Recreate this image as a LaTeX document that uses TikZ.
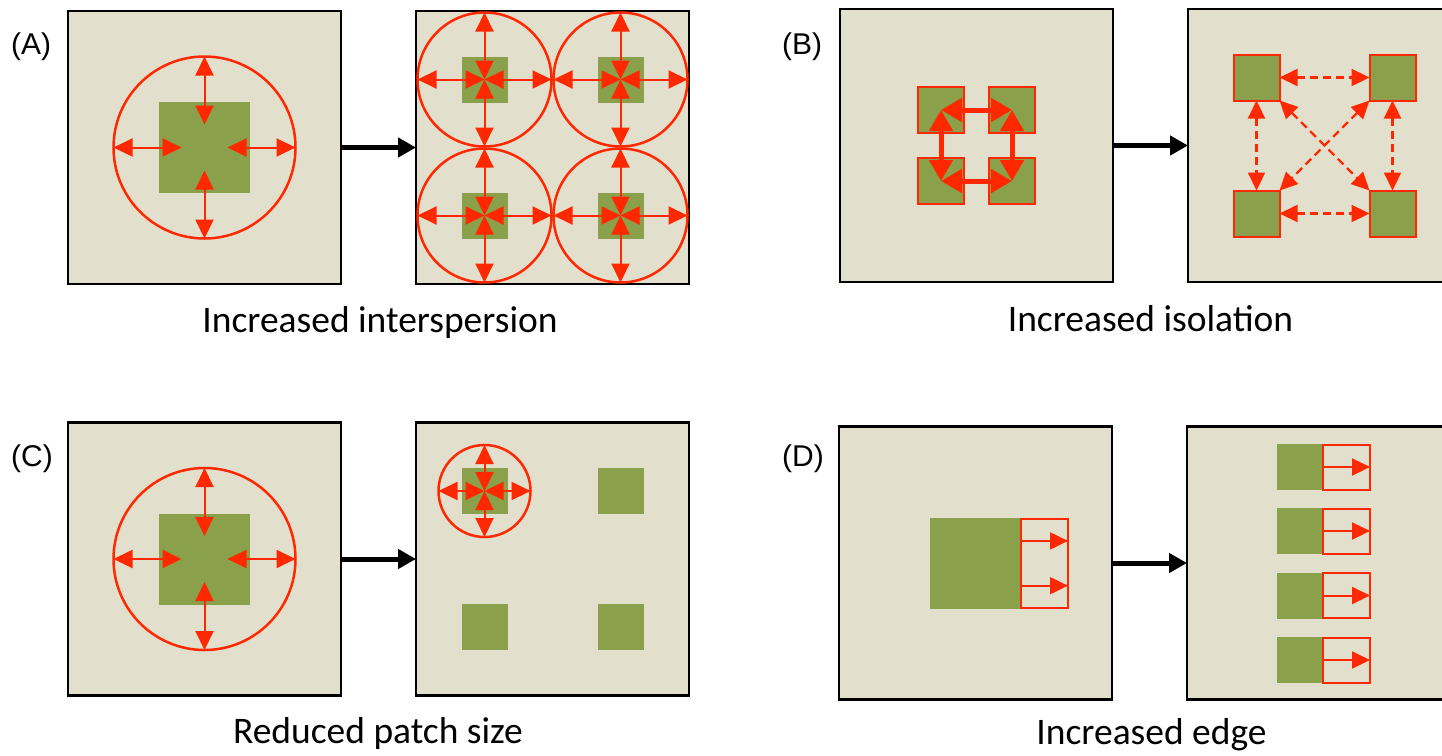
\documentclass[tikz,border=0pt]{standalone}
\usepackage{fontspec}
\setmainfont{Carlito}
\newfontfamily\labfont{Liberation Sans}
\usetikzlibrary{arrows.meta,calc}
\definecolor{bgc}{RGB}{226,223,205}
\definecolor{patchc}{RGB}{138,160,75}
\definecolor{redc}{RGB}{255,40,0}
\newcommand\starfrom[2]{%
  \draw[redarr] (#1.north) -- ($(#1.center)+(0,-#2)$);
  \draw[redarr] (#1.south) -- ($(#1.center)+(0,#2)$);
  \draw[redarr] (#1.east) -- ($(#1.center)+(#2,0)$);
  \draw[redarr] (#1.west) -- ($(#1.center)+(-#2,0)$);}
\begin{document}
\begin{tikzpicture}[x=1pt,y=-1pt,
  panel/.style={draw=black,line width=2.5pt,fill=bgc,minimum size=273pt,inner sep=0pt,outer sep=0pt},
  patchg/.style={fill=patchc,inner sep=0pt,outer sep=0pt,minimum size=#1},
  patchr/.style={fill=patchc,draw=redc,line width=2pt,inner sep=0pt,outer sep=0pt,minimum size=46pt},
  edgebox/.style={draw=redc,line width=2pt,inner sep=0pt,outer sep=0pt},
  circ/.style={circle,draw=redc,line width=2.5pt,minimum size=#1,inner sep=0pt,outer sep=0pt},
  redarr/.style={{Triangle[length=19pt,width=18pt]}-{Triangle[length=19pt,width=18pt]},line width=2pt,draw=redc,fill=redc},
  thickarr/.style={{Triangle[length=21pt,width=23pt]}-{Triangle[length=21pt,width=23pt]},line width=5pt,draw=redc,fill=redc},
  dasharr/.style={{Triangle[length=18pt,width=17pt]}-{Triangle[length=18pt,width=17pt]},line width=2.2pt,draw=redc,dash pattern=on 8pt off 5pt},
  edgearr/.style={-{Triangle[length=18pt,width=17pt]},line width=2pt,draw=redc},
  bigarr/.style={-{Triangle[length=18pt,width=19pt]},line width=5pt,draw=black},
  labtxt/.style={font=\labfont\fontsize{30}{33}\selectfont,inner sep=0pt,anchor=base west},
  captxt/.style={font=\fontsize{37.5}{40}\selectfont,inner sep=0pt,anchor=base}]
\useasboundingbox (0,0) rectangle (1442,755);

% ---------- labels ----------
\node[labtxt] (lA) at (11,54) {(A)};
\node[labtxt] (lB) at (782,54) {(B)};
\node[labtxt] (lC) at (11,466) {(C)};
\node[labtxt] (lD) at (782,466.5) {(D)};

% ---------- captions ----------
\node[captxt] (capA) at (380,332.7) {Increased interspersion};
\node[captxt] (capB) at (1150.5,331) {Increased isolation};
\node[captxt] (capC) at (378,743.3) {Reduced patch size};
\node[captxt] (capD) at (1151.5,744.3) {Increased edge};

% ---------- panels ----------
\node[panel] (A1) at (204.5,147.5) {};
\node[panel] (A2) at (552.5,147.5) {};
\node[panel] (B1) at (976.5,145.5) {};
\node[panel] (B2) at (1324.5,145.5) {};
\node[panel] (C1) at (204.5,559) {};
\node[panel] (C2) at (552.5,559) {};
\node[panel] (D1) at (975.5,563) {};
\node[panel] (D2) at (1323.5,563) {};

\draw[bigarr] (A1.east) -- (A2.west);
\draw[bigarr] (B1.east) -- (B2.west);
\draw[bigarr] (C1.east) -- (C2.west);
\draw[bigarr] (D1.east) -- (D2.west);

% ---------- (A) ----------
\node[patchg=91pt] (pA) at (A1.center) {};
\node[circ=182pt] (cA) at (A1.center) {};
\starfrom{cA}{23}
\foreach \n/\dx/\dy in {1/-68/-68,2/68/-68,3/-68/68,4/68/68}{
  \node[patchg=46pt] (pA\n) at ($(A2.center)+(\dx,\dy)$) {};
  \node[circ=134pt] (cA\n) at (pA\n.center) {};
}
\starfrom{cA1}{0}
\starfrom{cA2}{0}
\starfrom{cA3}{0}
\starfrom{cA4}{0}

% ---------- (C) ----------
\node[patchg=91pt] (pC) at (C1.center) {};
\node[circ=182pt] (cC) at (C1.center) {};
\starfrom{cC}{23}
\foreach \n/\dx/\dy in {1/-68/-68,2/68/-68,3/-68/68,4/68/68}{
  \node[patchg=46pt] (pC\n) at ($(C2.center)+(\dx,\dy)$) {};
}
\node[circ=92pt] (cC1) at (pC1.center) {};
\starfrom{cC1}{0}

% ---------- (B) ----------
\node[patchr] (b1) at ($(B1.center)+(-35.5,-35.5)$) {};
\node[patchr] (b2) at ($(B1.center)+(35.5,-35.5)$) {};
\node[patchr] (b3) at ($(B1.center)+(-35.5,35.5)$) {};
\node[patchr] (b4) at ($(B1.center)+(35.5,35.5)$) {};
\draw[thickarr] (b1.center) -- (b2.center);
\draw[thickarr] (b3.center) -- (b4.center);
\draw[thickarr] (b1.center) -- (b3.center);
\draw[thickarr] (b2.center) -- (b4.center);

\node[patchr] (bb1) at ($(B2.center)+(-68,-68)$) {};
\node[patchr] (bb2) at ($(B2.center)+(68,-68)$) {};
\node[patchr] (bb3) at ($(B2.center)+(-68,68)$) {};
\node[patchr] (bb4) at ($(B2.center)+(68,68)$) {};
\draw[dasharr] (bb1.east) -- (bb2.west);
\draw[dasharr] (bb3.east) -- (bb4.west);
\draw[dasharr] (bb1.south) -- (bb3.north);
\draw[dasharr] (bb2.south) -- (bb4.north);
\draw[dasharr] (bb1.south east) -- (bb4.north west);
\draw[dasharr] (bb2.south west) -- (bb3.north east);

% ---------- (D) ----------
\node[fill=patchc,inner sep=0pt,outer sep=0pt,minimum width=90.5pt,minimum height=90.5pt] (dg) at (975.25,563.3) {};
\node[edgebox,minimum width=47.5pt,minimum height=89.5pt] (dr) at (1044.25,563.3) {};
\draw[edgearr] ($(dr.north west)!0.25!(dr.south west)$) -- ($(dr.north east)!0.25!(dr.south east)$);
\draw[edgearr] ($(dr.north west)!0.75!(dr.south west)$) -- ($(dr.north east)!0.75!(dr.south east)$);

\foreach \n/\y in {1/467,2/531,3/595.5,4/660}{
  \node[fill=patchc,inner sep=0pt,outer sep=0pt,minimum size=46pt] (dg\n) at (1300,\y) {};
  \node[edgebox,minimum width=47pt,minimum height=45pt] (dr\n) at (1346.5,\y) {};
  \draw[edgearr] (dr\n.west) -- (dr\n.east);
}
\end{tikzpicture}
\end{document}
